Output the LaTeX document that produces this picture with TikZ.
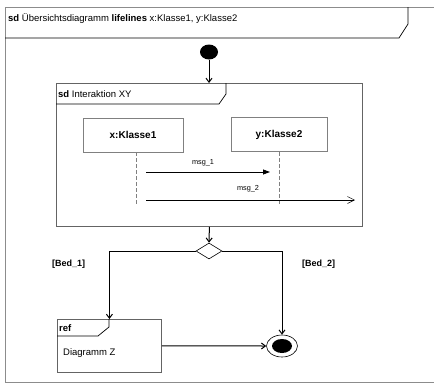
\documentclass[tikz,border=0pt]{standalone}
\usepackage{fontspec}
\setmainfont{Liberation Sans}
\usetikzlibrary{arrows.meta,positioning,shapes.geometric}
\definecolor{FrameGray}{RGB}{100,100,100}
\definecolor{TopGray}{RGB}{140,140,140}
\definecolor{LifeGray}{RGB}{128,128,128}
\tikzset{
  framebox/.style={draw=FrameGray,line width=0.8pt,anchor=north west,inner sep=0pt},
  headline/.style={draw=black,line width=0.7pt},
  lifebox/.style={draw=LifeGray,line width=0.6pt,minimum width=100pt,minimum height=34pt,inner sep=0pt,font=\bfseries\fontsize{10}{12}\selectfont},
  lifeline/.style={draw=LifeGray,dashed,dash pattern=on 4pt off 2pt,line width=0.5pt},
  flow/.style={-{Straight Barb[length=4pt,width=6pt]},line width=1pt},
  msgsync/.style={-{Triangle[length=7pt,width=5pt]},line width=0.8pt},
  msgasync/.style={-{Straight Barb[length=7pt,width=7pt]},line width=0.5pt},
  msglabel/.style={font=\fontsize{7.3}{8.5}\selectfont,inner sep=0pt},
  plain/.style={font=\fontsize{9.5}{11}\selectfont,inner sep=0pt},
  guard/.style={font=\bfseries\fontsize{9}{10.5}\selectfont,inner sep=0pt}
}
\begin{document}
\begin{tikzpicture}[x=1pt,y=-1pt]
\useasboundingbox (0,0) rectangle (434,383);
% outer frame
\draw[draw=TopGray,line width=1pt] (434,7) -- (5,7) -- (5,382) -- (434,382);
\draw[headline] (5,38) -- (399,38) -- (408,24) -- (408,7);
\node[plain,anchor=base west] (title) at (8,21) {\textbf{sd} Übersichtsdiagramm \textbf{lifelines} x:Klasse1, y:Klasse2};
% start
\node[ellipse,fill,minimum width=18pt,minimum height=15pt,inner sep=0pt] (start) at (209,52) {};
% interaction frame
\node[framebox,minimum width=306pt,minimum height=143pt] (inter) at (56,83) {};
\draw[headline] (56,104) -- (219,104) -- (226,94) -- (226,83);
\node[plain,anchor=base west] (intertitle) at (58,97) {\textbf{sd} Interaktion XY};
\node[lifebox] (obj1) at (133,135) {x:Klasse1};
\node[lifebox,minimum width=96pt] (obj2) at (279,134.5) {\raisebox{2pt}{y:Klasse2}};
\coordinate (end1) at (136,205);
\coordinate (end2) at (279,205);
\draw[lifeline] (obj1.south -| end1) -- (end1);
\draw[lifeline] (obj2.south) -- (end2);
\coordinate (m1a) at (146,172);
\coordinate (m1b) at (270,172);
\coordinate (m2a) at (146,200);
\coordinate (m2b) at (355,200);
\draw[msgsync] (m1a) -- (m1b);
\draw[msgasync] (m2a) -- (m2b);
\node[msglabel,anchor=base] (lab1) at (203,164) {msg\_1};
\node[msglabel,anchor=base] (lab2) at (248,190) {msg\_2};
% decision
\node[diamond,draw,line width=0.6pt,minimum width=26pt,minimum height=16pt,inner sep=0pt] (choice) at (209,251) {};
\node[guard,anchor=base west] (bed1) at (52,266) {[Bed\_1]};
\node[guard,anchor=base west] (bed2) at (302,266) {[Bed\_2]};
% ref frame
\node[framebox,minimum width=104pt,minimum height=53pt] (ref) at (57,319) {};
\draw[headline] (57,336) -- (98,336) -- (109,327) -- (109,319);
\node[plain,anchor=base west] (reftitle) at (59,331) {\textbf{ref}};
\node[plain,anchor=base west] (refname) at (63,355) {Diagramm Z};
% final
\node[ellipse,draw,line width=0.6pt,minimum width=31pt,minimum height=22pt,inner sep=0pt] (final) at (282,346) {};
\node[ellipse,fill,minimum width=20pt,minimum height=14pt,inner sep=0pt] (finaldot) at (final) {};
% flows
\draw[flow] (start) -- (start |- inter.north);
\draw[flow] (inter.south) -- (choice.north);
\draw[flow] (choice.west) -| (ref.north);
\draw[flow] (choice.east) -| (final.north);
\draw[flow] (ref.east) -- (final.west);
\end{tikzpicture}
\end{document}
